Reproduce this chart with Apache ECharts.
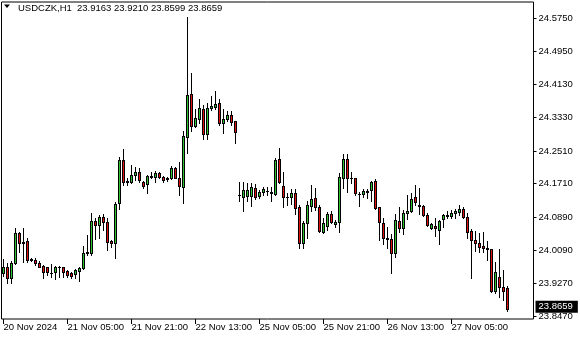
<!DOCTYPE html>
<html><head><meta charset="utf-8">
<script src="https://cdn.jsdelivr.net/npm/echarts@6/dist/echarts.min.js"></script>
<style>html,body{margin:0;padding:0;background:#fff}#c{width:580px;height:340px}</style>
</head><body><div id="c"></div>
<script>
const symbolName = 'USDCZK,H1';
const opens = [23.9520,23.9667,23.9398,23.9765,24.0498,24.0293,24.0310,23.9870,23.9846,23.9765,23.9699,23.9667,23.9528,23.9545,23.9667,23.9667,23.9577,23.9520,23.9503,23.9577,23.9643,24.0034,24.0024,24.0798,24.0701,24.0889,24.0767,24.0310,24.0254,24.1230,24.2289,24.1758,24.1758,24.1922,24.1988,24.1758,24.1702,24.1881,24.1866,24.1964,24.1881,24.1856,24.1841,24.2086,24.1841,24.1621,24.2858,24.3893,24.3119,24.3283,24.3534,24.2917,24.3566,24.3590,24.3673,24.3185,24.3283,24.3381,24.3241,24.1433,24.1377,24.1416,24.1416,24.1597,24.1416,24.1514,24.1538,24.1475,24.1458,24.2306,24.1653,24.1392,24.1392,24.1475,24.1133,24.0254,24.0742,24.1172,24.1352,24.1147,24.0537,24.0684,24.0962,24.0718,24.0767,24.1841,24.2306,24.1856,24.1841,24.1465,24.1450,24.1499,24.1555,24.1775,24.1133,24.0742,24.0376,24.0351,24.0009,24.0806,24.0620,24.0986,24.1042,24.1377,24.1189,24.1172,24.0945,24.0620,24.0676,24.0579,24.0840,24.0920,24.0928,24.0986,24.1011,24.1084,24.0889,24.0554,24.0334,24.0254,24.0188,24.0146,24.0107,23.9095,23.9437,23.9178,23.9163];
const highs = [23.9870,23.9772,23.9828,24.0620,24.0530,24.0627,24.0383,23.9895,23.9887,23.9828,23.9711,23.9682,23.9748,23.9699,23.9699,23.9682,23.9601,23.9540,23.9625,23.9682,24.0188,24.0456,24.1001,24.0864,24.0945,24.0969,24.0864,24.0334,24.1269,24.2369,24.2550,24.1841,24.2167,24.2110,24.2086,24.1783,24.1922,24.2003,24.2028,24.2003,24.1905,24.1881,24.2142,24.2125,24.2247,24.3005,24.5774,24.4421,24.3534,24.3771,24.3632,24.3673,24.3852,24.3974,24.3771,24.3527,24.3493,24.3493,24.3249,24.1758,24.1758,24.1734,24.1734,24.1702,24.1555,24.1621,24.1621,24.1636,24.2330,24.2589,24.1988,24.1489,24.1580,24.1580,24.1189,24.0806,24.1287,24.1677,24.1597,24.1189,24.0864,24.1025,24.1042,24.0823,24.1963,24.2435,24.2435,24.2003,24.1849,24.1514,24.1580,24.1580,24.1775,24.1817,24.1140,24.0864,24.0645,24.0474,24.0962,24.1133,24.1067,24.1433,24.1489,24.1677,24.1597,24.1189,24.0986,24.0742,24.0864,24.0823,24.0969,24.1042,24.1067,24.1084,24.1189,24.1133,24.0986,24.0596,24.0554,24.0513,24.0522,24.0310,24.0122,23.9804,24.0114,23.9601,23.9210];
const lows = [23.9454,23.9276,23.9276,23.9748,24.0041,23.9804,23.9804,23.9821,23.9723,23.9674,23.9398,23.9479,23.9437,23.9374,23.9437,23.9437,23.9437,23.9413,23.9398,23.9340,23.9618,23.9968,23.9968,24.0351,24.0376,24.0579,24.0090,24.0171,23.9887,24.1084,24.1677,24.1677,24.1734,24.1800,24.1758,24.1597,24.1475,24.1841,24.1758,24.1841,24.1758,24.1775,24.1817,24.1841,24.1433,24.1245,24.2467,24.3004,24.3094,24.3185,24.2794,24.2794,24.3510,24.3527,24.3143,24.2941,24.3249,24.3143,24.2711,24.1294,24.1050,24.1294,24.1164,24.1328,24.1352,24.1433,24.1433,24.1294,24.1433,24.1726,24.1147,24.1189,24.1213,24.0962,24.0146,24.0146,24.0390,24.1042,24.1067,24.0537,24.0498,24.0579,24.0742,24.0659,24.0537,24.1612,24.1514,24.1719,24.1433,24.1172,24.1392,24.1367,24.1294,24.1084,24.0334,24.0229,24.0146,23.9520,23.9926,24.0537,24.0474,24.0840,24.1025,24.1189,24.0969,24.0928,24.0676,24.0596,24.0439,24.0229,24.0659,24.0864,24.0879,24.0879,24.0945,24.0864,24.0376,23.9398,24.0073,24.0034,24.0034,23.9846,23.9071,23.9047,23.8950,23.8868,23.8599];
const closes = [23.9682,23.9398,23.9765,24.0498,24.0254,24.0254,23.9846,23.9853,23.9765,23.9682,23.9545,23.9559,23.9520,23.9667,23.9674,23.9545,23.9479,23.9454,23.9601,23.9657,24.0009,24.0024,24.0798,24.0701,24.0889,24.0767,24.0278,24.0254,24.1213,24.2289,24.1758,24.1768,24.1922,24.2003,24.1800,24.1653,24.1905,24.1905,24.1979,24.1881,24.1800,24.1817,24.2086,24.1856,24.1653,24.2875,24.3876,24.3119,24.3308,24.3551,24.2917,24.3551,24.3607,24.3656,24.3185,24.3283,24.3388,24.3224,24.2980,24.1426,24.1555,24.1555,24.1621,24.1392,24.1514,24.1572,24.1540,24.1514,24.2289,24.1743,24.1377,24.1390,24.1475,24.1108,24.0254,24.0742,24.1189,24.1328,24.1133,24.0562,24.0742,24.0962,24.0781,24.0767,24.1866,24.2306,24.1841,24.1858,24.1475,24.1463,24.1531,24.1531,24.1758,24.1108,24.0767,24.0376,24.0351,24.0009,24.0823,24.0620,24.1001,24.1042,24.1335,24.1255,24.1172,24.0945,24.0701,24.0718,24.0620,24.0798,24.0945,24.0945,24.1001,24.1042,24.1084,24.0904,24.0537,24.0334,24.0254,24.0171,24.0132,24.0114,23.9095,23.9545,23.9178,23.9095,23.8659];
const yTickValues = [23.847, 23.927, 24.009, 24.089, 24.171, 24.251, 24.333, 24.413, 24.495, 24.575];
const xTickIndexes = [0, 16, 32, 48, 64, 80, 96, 112];
const xTickLabels = ['20 Nov 2024', '21 Nov 05:00', '21 Nov 21:00', '22 Nov 13:00', '25 Nov 05:00', '25 Nov 21:00', '26 Nov 13:00', '27 Nov 05:00'];
const emptySlotsRight = 6;

const FONT = 'Liberation Sans';
const BULL = '#2fc22f', BEAR = '#e01010';
const n = opens.length;
const cats = [];
for (let i = 0; i < n + emptySlotsRight; i++) cats.push(String(i));
const labelMap = {};
xTickIndexes.forEach((ix, k) => { labelMap[ix] = xTickLabels[k]; });
const bars = opens.map((o, i) => [i, o, closes[i], lows[i], highs[i]]);
const last = n - 1;
const headerNums = [opens[last], highs[last], lows[last], closes[last]].map(v => v.toFixed(4)).join(' ');

function renderCandle(params, api) {
  const i = api.value(0), o = api.value(1), c = api.value(2), l = api.value(3), h = api.value(4);
  const po = api.coord([i, o]), pc = api.coord([i, c]), pl = api.coord([i, l]), ph = api.coord([i, h]);
  const px = Math.floor(po[0]);
  const top = Math.round(Math.min(po[1], pc[1]));
  const bot = Math.round(Math.max(po[1], pc[1]));
  const yh = Math.round(ph[1]), yl = Math.round(pl[1]);
  const children = [
    {type: 'rect', shape: {x: px, y: yh, width: 1, height: yl - yh + 1}, style: {fill: '#000'}},
    {type: 'rect', shape: {x: px - 1, y: top, width: 3, height: bot - top + 1}, style: {fill: '#000'}}
  ];
  if (bot - top >= 2) {
    children.push({type: 'rect', shape: {x: px, y: top + 1, width: 1, height: bot - top - 1},
      style: {fill: c >= o ? BULL : BEAR}});
  }
  return {type: 'group', children};
}

const chart = echarts.init(document.getElementById('c'), null, {renderer: 'canvas'});
chart.setOption({
  animation: false,
  backgroundColor: '#fff',
  grid: {left: 1.5, top: 2, right: 46.5, bottom: 21, show: true, borderColor: '#000', borderWidth: 1, backgroundColor: '#fff'},
  xAxis: {
    type: 'category', data: cats, boundaryGap: true,
    axisLine: {show: false},
    axisTick: {show: true, alignWithLabel: true, length: 5, lineStyle: {color: '#000'},
      interval: (idx) => labelMap[idx] !== undefined},
    axisLabel: {show: true, interval: (idx) => labelMap[idx] !== undefined,
      formatter: (v, idx) => labelMap[idx] || '', align: 'left', margin: 3,
      fontFamily: FONT, fontSize: 9.5, color: '#000'},
    splitLine: {show: false}
  },
  yAxis: {
    type: 'value', position: 'right', scale: true,
    min: 23.8403, max: 24.6148,
    axisLine: {show: false},
    axisTick: {show: true, length: 3, lineStyle: {color: '#000'}, customValues: yTickValues},
    axisLabel: {show: true, customValues: yTickValues, formatter: v => v.toFixed(4), margin: 5,
      fontFamily: FONT, fontSize: 9.5, color: '#000'},
    splitLine: {show: false}
  },
  series: [{
    type: 'custom', data: bars, renderItem: renderCandle,
    encode: {x: 0, y: [1, 2, 3, 4]},
    markLine: {
      silent: true, symbol: ['none', 'none'], animation: false,
      lineStyle: {color: 'rgba(0,0,0,0)', width: 0},
      data: [{yAxis: closes[last]}],
      label: {show: true, position: 'end', distance: 2, formatter: () => closes[last].toFixed(4),
        backgroundColor: '#000', color: '#fff', fontFamily: FONT, fontSize: 9.5,
        padding: [1, 5, 1, 3], lineHeight: 10}
    }
  }],
  graphic: [
    {type: 'polygon', shape: {points: [[4, 4.5], [10, 4.5], [7, 8]]}, style: {fill: '#000'}},
    {type: 'text', left: 18, top: 3, style: {text: symbolName, fontFamily: FONT, fontSize: 9.5, fill: '#000'}},
    {type: 'text', left: 77, top: 3, style: {text: headerNums, fontFamily: FONT, fontSize: 9.5, fill: '#000'}}
  ]
});
</script></body></html>
